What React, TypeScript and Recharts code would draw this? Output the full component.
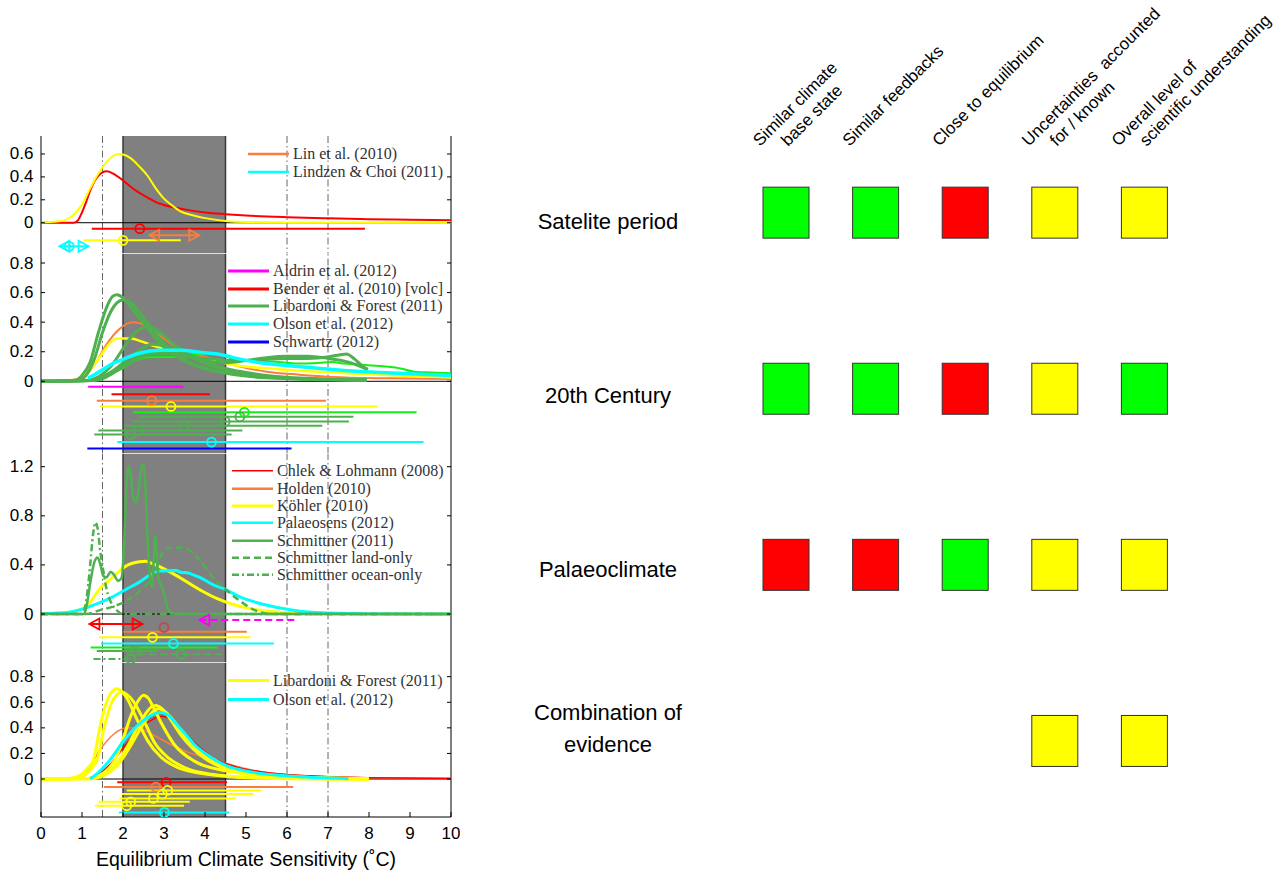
import React from 'react';
import {
  ComposedChart,
  Line,
  Scatter,
  XAxis,
  YAxis,
  ReferenceArea,
  ReferenceLine,
  Legend,
  Label,
} from 'recharts';

type Pt = [number, number];
type Range = {
  c: string;
  level: number;
  lo?: number;
  hi?: number;
  best?: number;
  loOpen?: boolean;
  hiOpen?: boolean;
  line?: 'solid' | 'dashed' | 'dashdot';
  plus?: boolean;
};

// ---------- palette ----------
const PALETTE: Record<string, string> = {
  red: '#ff0000',
  orange: '#fb7d3c',
  yellow: '#ffff00',
  cyan: '#00ffff',
  green: '#4fb04f',
  lime: '#14ee14',
  magenta: '#ff00ff',
  blue: '#0000ff',
  darkred: '#c24a4a',
};
const DASHES: Record<string, string | undefined> = {
  solid: undefined,
  dashed: '7 4',
  dashdot: '7 3 2 3',
};

const X_TICKS = [0, 1, 2, 3, 4, 5, 6, 7, 8, 9, 10];
const LIKELY_RANGE: [number, number] = [2, 4.5];
const GUIDE_LINES = [1.5, 6, 7];

// ---------- Satellite period ----------
const satRedPdf: Pt[] = [
  [0, 0], [0.8, 0], [0.9, 0.02], [1.0, 0.09], [1.1, 0.18], [1.2, 0.28], [1.3, 0.36], [1.4, 0.41],
  [1.5, 0.44], [1.6, 0.45], [1.7, 0.44], [1.8, 0.42], [2.0, 0.37], [2.2, 0.31], [2.4, 0.26],
  [2.6, 0.22], [2.8, 0.18], [3.0, 0.155], [3.3, 0.13], [3.6, 0.11], [4.0, 0.09], [4.5, 0.075],
  [5.0, 0.063], [6.0, 0.048], [7.0, 0.038], [8.0, 0.031], [9.0, 0.026], [10, 0.022],
];
const satYellowPdf: Pt[] = [
  [0, 0.003], [0.4, 0.01], [0.6, 0.025], [0.8, 0.07], [1.0, 0.16], [1.2, 0.3], [1.4, 0.43],
  [1.6, 0.53], [1.8, 0.59], [1.9, 0.6], [2.0, 0.595], [2.2, 0.56], [2.4, 0.49], [2.6, 0.41],
  [2.8, 0.3], [3.0, 0.21], [3.2, 0.15], [3.4, 0.1], [3.7, 0.065], [4.0, 0.04], [4.5, 0.015],
  [5.0, 0.006], [6.0, 0.003], [10, 0.003],
];
const satRanges: Range[] = [
  { c: 'red', lo: 1.24, best: 2.41, hi: 7.9, level: -0.052 },
  { c: 'orange', lo: 2.64, hi: 3.86, level: -0.11, loOpen: true, hiOpen: true },
  { c: 'yellow', lo: 1.04, best: 2.0, hi: 3.41, level: -0.154 },
  { c: 'cyan', lo: 0.45, best: 0.69, hi: 1.16, level: -0.206, loOpen: true, hiOpen: true, plus: true },
];
const satLegend = [
  { name: 'Lin et al. (2010)', c: 'orange', w: 2.5 },
  { name: 'Lindzen & Choi (2011)', c: 'cyan', w: 2.5 },
];

// ---------- 20th century ----------
const libardoniPdfA: Pt[] = [
  [0, 0], [0.8, 0.005], [1.0, 0.04], [1.2, 0.13], [1.4, 0.33], [1.6, 0.5], [1.75, 0.575],
  [1.85, 0.585], [2.0, 0.565], [2.2, 0.5], [2.4, 0.43], [2.6, 0.36], [2.8, 0.29], [3.0, 0.23],
  [3.3, 0.17], [3.6, 0.125], [4.0, 0.085], [4.5, 0.055], [5.0, 0.035], [6.0, 0.018], [7.0, 0.01],
  [7.95, 0.006],
];
const libardoniPdfB: Pt[] = [
  [0, 0], [0.9, 0.005], [1.1, 0.04], [1.3, 0.15], [1.5, 0.33], [1.7, 0.47], [1.85, 0.53],
  [2.0, 0.55], [2.15, 0.54], [2.3, 0.5], [2.5, 0.43], [2.7, 0.36], [2.9, 0.29], [3.1, 0.23],
  [3.4, 0.17], [3.7, 0.12], [4.0, 0.09], [4.5, 0.06], [5.0, 0.04], [6.0, 0.02], [7.0, 0.012],
  [7.95, 0.008],
];
const libardoniPdfC: Pt[] = [
  [0, 0], [1.1, 0.005], [1.4, 0.03], [1.7, 0.1], [2.0, 0.22], [2.2, 0.3], [2.4, 0.35], [2.6, 0.37],
  [2.8, 0.35], [3.0, 0.31], [3.2, 0.26], [3.5, 0.2], [3.8, 0.15], [4.2, 0.11], [4.6, 0.08],
  [5.0, 0.06], [5.5, 0.04], [6.5, 0.02], [7.95, 0.01],
];
const libardoniPdfD: Pt[] = [
  [0, 0], [1.2, 0.005], [1.5, 0.03], [1.8, 0.08], [2.1, 0.15], [2.4, 0.21], [2.7, 0.25],
  [2.9, 0.245], [3.2, 0.22], [3.6, 0.17], [4.0, 0.12], [4.5, 0.08], [5.0, 0.05], [5.5, 0.03],
  [6.5, 0.015], [7.95, 0.01],
];
const libardoniPdfE: Pt[] = [
  [0, 0], [1.2, 0.005], [1.5, 0.03], [1.8, 0.07], [2.1, 0.12], [2.4, 0.17], [2.7, 0.2], [3.0, 0.2],
  [3.4, 0.18], [3.8, 0.16], [4.2, 0.15], [4.6, 0.14], [5.0, 0.14], [5.5, 0.15], [6.0, 0.155],
  [6.5, 0.155], [7.0, 0.165], [7.3, 0.18], [7.45, 0.185], [7.65, 0.15], [7.85, 0.1], [7.97, 0.08],
];
const libardoniPdfF: Pt[] = [
  [0, 0], [1.3, 0.005], [1.6, 0.03], [1.9, 0.08], [2.2, 0.13], [2.5, 0.17], [2.8, 0.19],
  [3.1, 0.19], [3.5, 0.17], [4.0, 0.14], [4.5, 0.125], [5.0, 0.14], [5.5, 0.16], [6.0, 0.17],
  [6.5, 0.17], [7.0, 0.155], [7.5, 0.13], [7.8, 0.1], [7.97, 0.08],
];
const limePdf: Pt[] = [
  [0, 0], [1.0, 0.003], [1.4, 0.02], [1.7, 0.05], [2.0, 0.09], [2.3, 0.14], [2.6, 0.163],
  [3.0, 0.165], [3.4, 0.165], [3.7, 0.18], [4.0, 0.19], [4.3, 0.185], [4.7, 0.15], [5.2, 0.14],
  [5.8, 0.13], [6.3, 0.12], [6.8, 0.125], [7.1, 0.13], [7.4, 0.12], [7.9, 0.11], [8.4, 0.1],
  [8.8, 0.085], [9.1, 0.065], [9.5, 0.06], [10, 0.055],
];
const c20OrangePdf: Pt[] = [
  [0, 0], [0.5, 0.005], [0.95, 0.02], [1.3, 0.11], [1.6, 0.25], [1.9, 0.35], [2.1, 0.39],
  [2.25, 0.4], [2.45, 0.39], [2.75, 0.34], [3.0, 0.29], [3.25, 0.24], [3.7, 0.19], [4.2, 0.15],
  [4.7, 0.11], [5.5, 0.065], [6.3, 0.045], [7.1, 0.03], [8.5, 0.02], [10, 0.015],
];
const c20YellowPdf: Pt[] = [
  [0, 0], [0.8, 0.005], [1.0, 0.03], [1.2, 0.08], [1.45, 0.17], [1.65, 0.25], [1.85, 0.29],
  [2.2, 0.29], [2.45, 0.27], [2.75, 0.24], [3.25, 0.2], [3.7, 0.165], [4.2, 0.14], [4.7, 0.11],
  [5.5, 0.088], [6.3, 0.072], [7.1, 0.06], [8.0, 0.048], [8.7, 0.04], [10, 0.025],
];
const olsonPdf: Pt[] = [
  [1.15, 0.02], [1.45, 0.07], [1.75, 0.12], [2.1, 0.16], [2.4, 0.19], [2.9, 0.21], [3.4, 0.21],
  [3.9, 0.195], [4.4, 0.18], [4.85, 0.15], [5.5, 0.12], [6.3, 0.1], [7.1, 0.08], [7.9, 0.065],
  [8.7, 0.054], [10, 0.04],
];
const c20Ranges: Range[] = [
  { c: 'magenta', lo: 1.15, hi: 3.47, level: -0.036 },
  { c: 'red', lo: 1.72, hi: 4.12, level: -0.088 },
  { c: 'orange', lo: 1.36, best: 2.7, hi: 6.95, level: -0.131 },
  { c: 'yellow', lo: 1.44, best: 3.17, hi: 8.21, level: -0.17 },
  { c: 'lime', lo: 2.24, best: 4.96, hi: 9.16, level: -0.21 },
  { c: 'green', lo: 2.41, best: 4.85, hi: 7.62, level: -0.24 },
  { c: 'green', lo: 2.21, best: 4.49, hi: 7.51, level: -0.271 },
  { c: 'green', lo: 2.02, best: 3.5, hi: 6.86, level: -0.301 },
  { c: 'green', lo: 1.4, best: 2.37, hi: 4.91, level: -0.332 },
  { c: 'green', lo: 1.3, best: 2.19, hi: 4.65, level: -0.36 },
  { c: 'cyan', lo: 1.86, best: 4.16, hi: 9.33, level: -0.411 },
  { c: 'blue', lo: 1.13, hi: 6.11, level: -0.454 },
];
const c20Legend = [
  { name: 'Aldrin et al. (2012)', c: 'magenta', w: 3 },
  { name: 'Bender et al. (2010) [volc]', c: 'red', w: 3 },
  { name: 'Libardoni & Forest (2011)', c: 'green', w: 3 },
  { name: 'Olson et al. (2012)', c: 'cyan', w: 3 },
  { name: 'Schwartz (2012)', c: 'blue', w: 3 },
];

// ---------- Palaeoclimate ----------
const kohlerPdf: Pt[] = [
  [0, 0.003], [0.6, 0.01], [1.1, 0.06], [1.42, 0.2], [1.75, 0.3], [2.07, 0.39], [2.4, 0.425],
  [2.55, 0.43], [2.72, 0.41], [3.05, 0.36], [3.37, 0.3], [3.86, 0.2], [4.27, 0.13], [4.67, 0.08],
  [5.16, 0.04], [5.9, 0.012], [6.5, 0.004], [7.5, 0.001], [10, 0],
];
const palaeosensPdf: Pt[] = [
  [0, 0.002], [0.6, 0.01], [1.1, 0.05], [1.42, 0.09], [1.75, 0.14], [2.07, 0.2], [2.4, 0.26],
  [2.72, 0.33], [2.9, 0.35], [3.3, 0.355], [3.4, 0.34], [3.6, 0.335], [3.7, 0.32], [3.86, 0.3],
  [4.19, 0.24], [4.5, 0.2], [4.85, 0.14], [5.3, 0.09], [5.9, 0.045], [6.7, 0.012], [7.9, 0.002],
  [10, 0],
];
const schmittnerPdf: Pt[] = [
  [0, 0], [1.05, 0], [1.12, 0.08], [1.2, 0.25], [1.3, 0.42], [1.38, 0.46], [1.45, 0.4],
  [1.52, 0.31], [1.6, 0.3], [1.7, 0.345], [1.78, 0.32], [1.88, 0.27], [1.97, 0.3], [2.03, 0.6],
  [2.08, 1.0], [2.13, 1.2], [2.18, 1.15], [2.25, 0.95], [2.32, 0.91], [2.38, 1.0], [2.45, 1.2],
  [2.49, 1.22], [2.55, 1.0], [2.6, 0.6], [2.66, 0.3], [2.71, 0.22], [2.75, 0.45], [2.79, 0.64],
  [2.83, 0.45], [2.87, 0.28], [2.95, 0.22], [3.02, 0.14], [3.1, 0.04], [3.2, 0.005], [3.3, 0],
  [10, 0],
];
const schmittnerLandPdf: Pt[] = [
  [0, 0], [1.1, 0], [1.42, 0.03], [1.75, 0.06], [2.1, 0.11], [2.48, 0.21], [2.72, 0.3],
  [2.9, 0.45], [3.0, 0.52], [3.1, 0.535], [3.45, 0.54], [3.7, 0.5], [3.9, 0.43], [4.19, 0.3],
  [4.5, 0.2], [4.84, 0.11], [5.16, 0.04], [5.4, 0.01], [5.6, 0], [10, 0],
];
const schmittnerOceanPdf: Pt[] = [
  [0, 0], [1.0, 0], [1.1, 0.1], [1.2, 0.4], [1.27, 0.65], [1.33, 0.745], [1.38, 0.7],
  [1.45, 0.5], [1.52, 0.35], [1.6, 0.2], [1.7, 0.1], [1.85, 0.03], [2.0, 0], [10, 0],
];
const palaeoRanges: Range[] = [
  { c: 'magenta', lo: 3.86, hi: 6.2, level: -0.049, loOpen: true, line: 'dashed' },
  { c: 'red', lo: 1.18, hi: 2.48, level: -0.082, loOpen: true, hiOpen: true },
  { c: 'darkred', best: 3.0, level: -0.109 },
  { c: 'orange', lo: 2.01, hi: 5.02, level: -0.144 },
  { c: 'yellow', lo: 1.42, best: 2.72, hi: 5.11, level: -0.19 },
  { c: 'cyan', lo: 1.46, best: 3.23, hi: 5.68, level: -0.24 },
  { c: 'lime', lo: 1.21, hi: 4.31, level: -0.273 },
  { c: 'green', lo: 1.36, best: 2.29, hi: 2.85, level: -0.302 },
  { c: 'green', lo: 2.1, best: 3.41, hi: 4.49, level: -0.327, line: 'dashed' },
  { c: 'green', lo: 1.28, best: 2.19, hi: 2.41, level: -0.367, line: 'dashdot' },
];
const palaeoLegend = [
  { name: 'Chlek & Lohmann (2008)', c: 'red', w: 1.5 },
  { name: 'Holden (2010)', c: 'orange', w: 2.5 },
  { name: 'Köhler (2010)', c: 'yellow', w: 2.5 },
  { name: 'Palaeosens (2012)', c: 'cyan', w: 2.5 },
  { name: 'Schmittner (2011)', c: 'green', w: 2.5 },
  { name: 'Schmittner land-only', c: 'green', w: 2.5, line: 'dashed' },
  { name: 'Schmittner ocean-only', c: 'green', w: 2.5, line: 'dashdot' },
];

// ---------- Combination of evidence ----------
const combYellowPdfA: Pt[] = [
  [0, 0], [0.6, 0.002], [0.8, 0.01], [1.0, 0.04], [1.15, 0.09], [1.28, 0.15], [1.36, 0.27],
  [1.44, 0.41], [1.6, 0.6], [1.75, 0.69], [1.85, 0.705], [1.95, 0.69], [2.1, 0.63], [2.35, 0.46],
  [2.6, 0.3], [2.93, 0.17], [3.33, 0.09], [3.9, 0.045], [4.55, 0.02], [5.5, 0.006], [7, 0.001],
  [8, 0],
];
const combYellowPdfB: Pt[] = [
  [0, 0], [0.7, 0.002], [0.9, 0.01], [1.1, 0.04], [1.25, 0.09], [1.38, 0.16], [1.54, 0.4],
  [1.7, 0.58], [1.85, 0.66], [1.97, 0.68], [2.1, 0.66], [2.27, 0.6], [2.52, 0.45], [2.76, 0.29],
  [3.09, 0.17], [3.5, 0.09], [4.0, 0.045], [4.7, 0.02], [5.5, 0.007], [7, 0.001], [8, 0],
];
const combYellowPdfC: Pt[] = [
  [0, 0], [1.2, 0.005], [1.45, 0.03], [1.65, 0.08], [1.85, 0.18], [2.02, 0.33], [2.2, 0.5],
  [2.35, 0.6], [2.5, 0.655], [2.62, 0.63], [2.74, 0.56], [2.93, 0.44], [3.25, 0.27], [3.74, 0.14],
  [4.4, 0.07], [5.0, 0.04], [6, 0.015], [7, 0.005], [8, 0.001],
];
const combYellowPdfD: Pt[] = [
  [0, 0], [1.2, 0.003], [1.5, 0.03], [1.8, 0.1], [2.1, 0.25], [2.35, 0.4], [2.55, 0.51],
  [2.7, 0.565], [2.8, 0.575], [2.95, 0.55], [3.15, 0.47], [3.4, 0.35], [3.7, 0.24], [4.0, 0.16],
  [4.5, 0.08], [5.0, 0.05], [6, 0.02], [7, 0.007], [8, 0.002],
];
const combYellowPdfE: Pt[] = [
  [0, 0], [1.25, 0.003], [1.55, 0.03], [1.85, 0.1], [2.15, 0.24], [2.4, 0.38], [2.6, 0.48],
  [2.78, 0.54], [2.88, 0.55], [3.05, 0.52], [3.25, 0.45], [3.5, 0.34], [3.8, 0.23], [4.1, 0.15],
  [4.6, 0.08], [5.1, 0.05], [6, 0.02], [7, 0.008], [8, 0.003],
];
const combCyanPdf: Pt[] = [
  [1.2, 0], [1.4, 0.05], [1.66, 0.14], [2.07, 0.32], [2.47, 0.45], [2.7, 0.5], [2.9, 0.52],
  [3.1, 0.5], [3.3, 0.43], [3.5, 0.36], [3.74, 0.27], [4.15, 0.17], [4.55, 0.1], [5.04, 0.06],
  [5.6, 0.035], [6.3, 0.018], [7, 0.008], [7.5, 0.004],
];
const combRedPdf: Pt[] = [
  [1.1, 0], [1.4, 0.04], [1.7, 0.12], [2.07, 0.27], [2.47, 0.41], [2.75, 0.47], [2.95, 0.49],
  [3.15, 0.47], [3.4, 0.4], [3.74, 0.285], [4.3, 0.15], [4.8, 0.09], [5.5, 0.05], [6.5, 0.025],
  [8, 0.01], [10, 0.004],
];
const combOrangePdf: Pt[] = [
  [0, 0], [0.8, 0.005], [1.03, 0.02], [1.44, 0.23], [1.77, 0.35], [2.1, 0.4], [2.44, 0.39],
  [2.76, 0.34], [3.17, 0.27], [3.58, 0.21], [4.07, 0.16], [4.55, 0.12], [5.0, 0.08], [5.5, 0.05],
  [6.5, 0.025], [8, 0.01], [10, 0.005],
];
const combRanges: Range[] = [
  { c: 'red', lo: 1.86, best: 3.05, hi: 4.54, level: -0.026 },
  { c: 'orange', lo: 1.54, best: 2.8, hi: 6.15, level: -0.063 },
  { c: 'yellow', lo: 2.09, best: 3.09, hi: 5.37, level: -0.089 },
  { c: 'yellow', lo: 1.97, best: 2.96, hi: 5.18, level: -0.118 },
  { c: 'yellow', lo: 1.91, best: 2.74, hi: 4.75, level: -0.152 },
  { c: 'yellow', lo: 1.4, best: 2.19, hi: 3.63, level: -0.178 },
  { c: 'yellow', lo: 1.32, best: 2.09, hi: 3.49, level: -0.209 },
  { c: 'cyan', lo: 1.9, best: 3.01, hi: 4.59, level: -0.261 },
];
const combLegend = [
  { name: 'Libardoni & Forest (2011)', c: 'yellow', w: 3 },
  { name: 'Olson et al. (2012)', c: 'cyan', w: 3 },
];

// ---------- assessment grid ----------
const rowLabels = [['Satelite period'], ['20th Century'], ['Palaeoclimate'], ['Combination of', 'evidence']];
const columnLabels = [
  ['Similar climate', 'base state'],
  ['Similar feedbacks'],
  ['Close to equilibrium'],
  ['Uncertainties  accounted', 'for / known'],
  ['Overall level of', 'scientific understanding'],
];
const satelliteRatings = ['yes', 'yes', 'no', 'partly', 'partly'];
const twentiethRatings = ['yes', 'yes', 'no', 'partly', 'yes'];
const palaeoRatings = ['no', 'no', 'yes', 'partly', 'partly'];
const combinedRatings = [null, null, null, 'partly', 'partly'];

const RATING_COLORS: Record<string, string> = { yes: '#00ff00', no: '#ff0000', partly: '#ffff00' };

// ---------- drawing helpers ----------
const SANS = '"Liberation Sans", Arial, Helvetica, sans-serif';
const SERIF = '"Liberation Serif", "Times New Roman", serif';
const PLOT_LEFT = 41;
const PLOT_RIGHT = 451;
const CHART_W = 460;
const X_AXIS_H = 54;

const toPts = (pts: Pt[]) => pts.map(([x, y]) => ({ x, y }));
const fmtTick = (v: number) => (Math.round(v * 10) / 10).toString();

type CurveSpec = { pts: Pt[]; c: string; w: number; line?: string };

const satCurves: CurveSpec[] = [
  { pts: satRedPdf, c: 'red', w: 2 },
  { pts: satYellowPdf, c: 'yellow', w: 2 },
];
const c20Curves: CurveSpec[] = [
  { pts: c20OrangePdf, c: 'orange', w: 2 },
  { pts: c20YellowPdf, c: 'yellow', w: 2.5 },
  { pts: limePdf, c: 'lime', w: 2 },
  { pts: libardoniPdfF, c: 'green', w: 3 },
  { pts: libardoniPdfE, c: 'green', w: 3 },
  { pts: libardoniPdfD, c: 'green', w: 3 },
  { pts: libardoniPdfC, c: 'green', w: 3 },
  { pts: libardoniPdfB, c: 'green', w: 3 },
  { pts: libardoniPdfA, c: 'green', w: 3 },
  { pts: olsonPdf, c: 'cyan', w: 3.5 },
];
const palaeoCurves: CurveSpec[] = [
  { pts: kohlerPdf, c: 'yellow', w: 3 },
  { pts: palaeosensPdf, c: 'cyan', w: 3 },
  { pts: schmittnerLandPdf, c: 'green', w: 2.5, line: 'dashed' },
  { pts: schmittnerOceanPdf, c: 'green', w: 2.5, line: 'dashdot' },
  { pts: schmittnerPdf, c: 'green', w: 2.5 },
];
const combCurves: CurveSpec[] = [
  { pts: combOrangePdf, c: 'orange', w: 1.5 },
  { pts: combRedPdf, c: 'red', w: 1.5 },
  { pts: combYellowPdfA, c: 'yellow', w: 3 },
  { pts: combYellowPdfB, c: 'yellow', w: 3 },
  { pts: combYellowPdfC, c: 'yellow', w: 3 },
  { pts: combYellowPdfD, c: 'yellow', w: 3 },
  { pts: combYellowPdfE, c: 'yellow', w: 3 },
  { pts: combCyanPdf, c: 'cyan', w: 3 },
];

type LegendItem = { name: string; c: string; w: number; line?: string };
type PanelSpec = {
  top: number;
  height: number;
  yDomain: [number, number];
  yTicks: number[];
  curves: CurveSpec[];
  ranges: Range[];
  legend: LegendItem[];
  legendBox: { left: number; top: number; rowH: number };
  axis: 'top' | 'bottom' | 'none';
};

const PANELS: PanelSpec[] = [
  {
    top: 136, height: 118, yDomain: [-0.273, 0.757], yTicks: [0, 0.2, 0.4, 0.6],
    curves: satCurves, ranges: satRanges, legend: satLegend,
    legendBox: { left: 248, top: 9, rowH: 18 }, axis: 'top',
  },
  {
    top: 254, height: 200, yDomain: [-0.4916, 0.861], yTicks: [0, 0.2, 0.4, 0.6, 0.8],
    curves: c20Curves, ranges: c20Ranges, legend: c20Legend,
    legendBox: { left: 228, top: 7.8, rowH: 17.85 }, axis: 'none',
  },
  {
    top: 454, height: 209, yDomain: [-0.399, 1.3035], yTicks: [0, 0.4, 0.8, 1.2],
    curves: palaeoCurves, ranges: palaeoRanges, legend: palaeoLegend,
    legendBox: { left: 232, top: 8.3, rowH: 17.35 }, axis: 'none',
  },
  {
    top: 663, height: 154 + X_AXIS_H, yDomain: [-0.297, 0.907], yTicks: [0, 0.2, 0.4, 0.6, 0.8],
    curves: combCurves, ranges: combRanges, legend: combLegend,
    legendBox: { left: 228, top: 8.2, rowH: 19 }, axis: 'bottom',
  },
];

const YTick = (props: any) => {
  const { y, payload } = props;
  return (
    <g>
      <line x1={PLOT_LEFT} x2={PLOT_LEFT + 4} y1={y} y2={y} stroke="#000" />
      <line x1={PLOT_RIGHT} x2={PLOT_RIGHT - 4} y1={y} y2={y} stroke="#000" />
      <text x={33.5} y={y} textAnchor="end" dominantBaseline="central" fontSize={17} fontFamily={SANS} fill="#000">
        {fmtTick(payload.value)}
      </text>
    </g>
  );
};

const TopTick = (props: any) => (
  <line x1={props.x} x2={props.x} y1={0} y2={5} stroke="#000" />
);

const makeBottomTick = (axisY: number) => (props: any) => (
  <g>
    <line x1={props.x} x2={props.x} y1={axisY} y2={axisY - 5} stroke="#000" />
    <text x={props.x} y={axisY + 22} textAnchor="middle" fontSize={17} fontFamily={SANS} fill="#000">
      {props.payload.value}
    </text>
  </g>
);

const MarkerShape = (props: any) => {
  const { cx, cy, payload } = props;
  if (cx == null || cy == null) return null;
  const col = PALETTE[payload.c];
  if (payload.kind === 'left' || payload.kind === 'right') {
    const d = payload.kind === 'left' ? 1 : -1;
    const pts = `${cx},${cy} ${cx + d * 10},${cy - 5.5} ${cx + d * 10},${cy + 5.5}`;
    return <polygon points={pts} fill="none" stroke={col} strokeWidth={1.8} />;
  }
  return (
    <g>
      <circle cx={cx} cy={cy} r={4.5} fill="none" stroke={col} strokeWidth={1.8} />
      {payload.kind === 'plus' && (
        <g stroke={col} strokeWidth={1.5}>
          <line x1={cx - 4.5} x2={cx + 4.5} y1={cy} y2={cy} />
          <line x1={cx} x2={cx} y1={cy - 4.5} y2={cy + 4.5} />
        </g>
      )}
    </g>
  );
};

const LegendBox = ({ items, rowH }: { items: LegendItem[]; rowH: number }) => (
  <div style={{ fontFamily: SERIF, fontSize: 16, color: '#333', whiteSpace: 'nowrap' }}>
    {items.map((it, i) => (
      <div key={i} style={{ display: 'flex', alignItems: 'center', height: rowH }}>
        <svg width={41} height={rowH} style={{ display: 'block' }}>
          <line
            x1={0}
            x2={41}
            y1={rowH / 2}
            y2={rowH / 2}
            stroke={PALETTE[it.c]}
            strokeWidth={it.w}
            strokeDasharray={DASHES[it.line || 'solid']}
          />
        </svg>
        <span style={{ marginLeft: 4, lineHeight: `${rowH}px` }}>{it.name}</span>
      </div>
    ))}
  </div>
);

function Panel({ spec }: { spec: PanelSpec }) {
  const plotH = spec.height - (spec.axis === 'bottom' ? X_AXIS_H : 0);
  const markers = spec.ranges.flatMap((r) => {
    const out: any[] = [];
    if (r.best != null) out.push({ x: r.best, y: r.level, c: r.c, kind: r.plus ? 'plus' : 'circle' });
    if (r.loOpen && r.lo != null) out.push({ x: r.lo, y: r.level, c: r.c, kind: 'left' });
    if (r.hiOpen && r.hi != null) out.push({ x: r.hi, y: r.level, c: r.c, kind: 'right' });
    return out;
  });
  const bars = spec.ranges.filter((r) => r.lo != null && r.hi != null);

  return (
    <div style={{ position: 'absolute', left: 0, top: spec.top }}>
      <ComposedChart
        width={CHART_W}
        height={spec.height}
        margin={{ top: 0, right: CHART_W - PLOT_RIGHT, bottom: 0, left: 0 }}
      >
        {spec.axis === 'bottom' ? (
          <XAxis
            type="number"
            dataKey="x"
            domain={[0, 10]}
            ticks={X_TICKS}
            interval={0}
            allowDataOverflow
            height={X_AXIS_H}
            axisLine={{ stroke: '#000' }}
            tickLine={false}
            tick={makeBottomTick(plotH)}
          >
            <Label
              value="Equilibrium Climate Sensitivity (˚C)"
              position="insideBottom"
              offset={5}
              style={{ fontSize: 19.5, fontFamily: SANS, fill: '#000' }}
            />
          </XAxis>
        ) : spec.axis === 'top' ? (
          <XAxis
            type="number"
            dataKey="x"
            orientation="top"
            domain={[0, 10]}
            ticks={X_TICKS}
            interval={0}
            allowDataOverflow
            height={0}
            axisLine={{ stroke: '#000' }}
            tickLine={false}
            tick={TopTick}
          />
        ) : (
          <XAxis type="number" dataKey="x" domain={[0, 10]} allowDataOverflow hide />
        )}
        <YAxis
          type="number"
          dataKey="y"
          domain={spec.yDomain}
          ticks={spec.yTicks}
          interval={0}
          allowDataOverflow
          width={PLOT_LEFT}
          axisLine={{ stroke: '#000' }}
          tickLine={false}
          tick={YTick}
        />
        <ReferenceArea x1={LIKELY_RANGE[0]} x2={LIKELY_RANGE[1]} fill="#808080" fillOpacity={1} stroke="none" />
        <ReferenceLine x={LIKELY_RANGE[0]} stroke="#3a3a3a" strokeWidth={1.5} />
        <ReferenceLine x={LIKELY_RANGE[1]} stroke="#3a3a3a" strokeWidth={1.5} />
        {GUIDE_LINES.map((g) => (
          <ReferenceLine key={g} x={g} stroke="#666" strokeWidth={1} strokeDasharray="7 3 1.5 3" />
        ))}
        <ReferenceLine y={0} stroke="#000" strokeWidth={1} />
        {spec.axis !== 'bottom' && <ReferenceLine y={spec.yDomain[0]} stroke="#fff" strokeWidth={1.5} />}
        <ReferenceLine x={10} stroke="#000" strokeWidth={1} />
        {spec.curves.map((cv, i) => (
          <Line
            key={`c${i}`}
            data={toPts(cv.pts)}
            dataKey="y"
            type="monotone"
            stroke={PALETTE[cv.c]}
            strokeWidth={cv.w}
            strokeDasharray={DASHES[cv.line || 'solid']}
            dot={false}
            activeDot={false}
            legendType="none"
            isAnimationActive={false}
          />
        ))}
        {bars.map((r, i) => (
          <Line
            key={`r${i}`}
            data={[{ x: r.lo, y: r.level }, { x: r.hi, y: r.level }]}
            dataKey="y"
            type="linear"
            stroke={PALETTE[r.c]}
            strokeWidth={2}
            strokeDasharray={DASHES[r.line || 'solid']}
            dot={false}
            activeDot={false}
            legendType="none"
            isAnimationActive={false}
          />
        ))}
        <Scatter data={markers} dataKey="y" shape={MarkerShape} legendType="none" isAnimationActive={false} />
        <Legend
          layout="vertical"
          align="center"
          verticalAlign="middle"
          wrapperStyle={{ left: spec.legendBox.left, top: spec.legendBox.top, width: 'auto', height: 'auto' }}
          content={() => <LegendBox items={spec.legend} rowH={spec.legendBox.rowH} />}
        />
      </ComposedChart>
    </div>
  );
}

// ---------- assessment grid chart ----------
const GRID_LEFT = 480;
const GRID_W = 799;
const GRID_H = 871;
const HEADER_H = 124.6;
const ROWAXIS_W = 261.2;
const ROW_LABEL_X = 128;
const ROW_BASELINE_SHIFT = [16.6, 14.5, 12.5, -21];
const ROW_LINE_GAP = 32;
const HEADER_START_DX = -26;
const HEADER_LINE_DX = 28;
const HEADER_BASELINE_Y = 147;

const cells = [satelliteRatings, twentiethRatings, palaeoRatings, combinedRatings].flatMap((ratings, r) =>
  ratings
    .map((rating, c) => (rating ? { col: c, row: r, rating } : null))
    .filter((d): d is { col: number; row: number; rating: string } => d !== null)
);

const HeaderTick = (props: any) => {
  const { x, payload } = props;
  const lines = columnLabels[payload.value] || [];
  return (
    <g>
      {lines.map((ln, i) => {
        const sx = x + HEADER_START_DX + HEADER_LINE_DX * i;
        const sy = HEADER_BASELINE_Y;
        return (
          <text
            key={i}
            x={sx}
            y={sy}
            transform={`rotate(-45 ${sx} ${sy})`}
            fontSize={17}
            fontFamily={SANS}
            fill="#000"
            style={{ whiteSpace: 'pre' }}
          >
            {ln}
          </text>
        );
      })}
    </g>
  );
};

const RowTick = (props: any) => {
  const { y, payload } = props;
  const idx = payload.value as number;
  const lines = rowLabels[idx] || [];
  const base = y + (ROW_BASELINE_SHIFT[idx] ?? 0);
  return (
    <g>
      {lines.map((ln, i) => (
        <text
          key={i}
          x={ROW_LABEL_X}
          y={base + i * ROW_LINE_GAP}
          textAnchor="middle"
          fontSize={22}
          fontFamily={SANS}
          fill="#000"
        >
          {ln}
        </text>
      ))}
    </g>
  );
};

const CellShape = (props: any) => {
  const { cx, cy, payload } = props;
  if (cx == null || cy == null) return null;
  return (
    <rect
      x={cx - 23}
      y={cy - 25.5}
      width={46}
      height={51}
      fill={RATING_COLORS[payload.rating]}
      stroke="#333"
      strokeWidth={1}
    />
  );
};

function AssessmentGrid() {
  return (
    <div style={{ position: 'absolute', left: GRID_LEFT, top: 0 }}>
      <ComposedChart
        width={GRID_W}
        height={GRID_H}
        margin={{ top: 0, right: GRID_W - ROWAXIS_W - 448, bottom: GRID_H - HEADER_H - 704.4, left: 0 }}
      >
        <XAxis
          type="number"
          dataKey="col"
          orientation="top"
          domain={[-0.5, 4.5]}
          ticks={[0, 1, 2, 3, 4]}
          interval={0}
          height={HEADER_H}
          axisLine={false}
          tickLine={false}
          tick={HeaderTick}
        />
        <YAxis
          type="number"
          dataKey="row"
          domain={[-0.5, 3.5]}
          reversed
          ticks={[0, 1, 2, 3]}
          interval={0}
          width={ROWAXIS_W}
          axisLine={false}
          tickLine={false}
          tick={RowTick}
        />
        <Scatter data={cells} dataKey="row" shape={CellShape} legendType="none" isAnimationActive={false} />
      </ComposedChart>
    </div>
  );
}

export default function App() {
  return (
    <div style={{ position: 'absolute', left: 0, top: 0, width: 1279, height: 871, background: '#fff' }}>
      {PANELS.map((p, i) => (
        <Panel key={i} spec={p} />
      ))}
      <AssessmentGrid />
    </div>
  );
}
